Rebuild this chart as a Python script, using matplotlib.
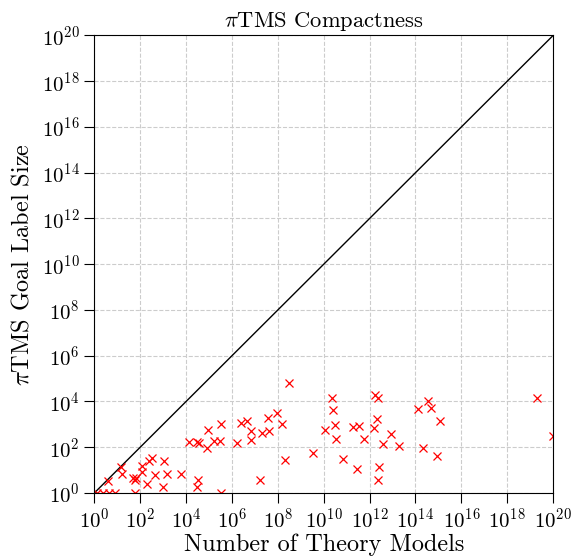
import numpy as np
import matplotlib
matplotlib.use("Agg")
import matplotlib.pyplot as plt

plt.rcParams['font.family'] = 'serif'
plt.rcParams['font.serif'] = ['cmr10']
plt.rcParams['mathtext.fontset'] = 'cm'
plt.rcParams['axes.formatter.use_mathtext'] = True
plt.rcParams['axes.unicode_minus'] = False

# numero de modelos de la teoria vs tamano de la etiqueta objetivo
n_models = [1.3, 2.3, 4.3, 8, 4, 14, 16, 49, 59, 69, 59, 115, 126, 190, 245, 316,
            437, 1070, 1410, 955, 5750, 1.35e4, 2.9e4, 3.7e4, 7.8e4, 9.1e4,
            1.6e5, 3.0e5, 3.5e5, 1.6e6, 3.4e4, 2.9e4, 3.5e5, 2.6e6, 4.7e6,
            6.6e6, 6.8e6, 2.0e7, 3.9e7, 4.3e7, 8.9e7, 1.45e8, 1.66e7, 3.2e8,
            2.0e8, 3.5e9, 2.2e10, 2.45e10, 3.1e10, 1.12e10, 3.4e10, 6.6e10,
            1.95e11, 3.4e11, 2.7e11, 5.6e11, 1.6e12, 1.7e12, 2.4e12, 2.0e12,
            2.6e12, 2.4e12, 3.9e12, 8.5e12, 1.95e13, 1.3e14, 3.6e14, 4.6e14,
            1.17e15, 2.2e14, 8.9e14, 2.0e19, 1e20]
label_size = [1, 1, 1, 1, 3.3, 14, 7, 4.4, 3.7, 4.4, 1, 8.5, 15, 2.6, 26, 33,
              6.2, 26, 6.8, 1.9, 6.6, 174, 174, 148, 89, 560,
              186, 186, 1020, 148, 3.7, 1.9, 1, 1100, 1450,
              525, 204, 427, 1950, 525, 3240, 1020, 3.7, 6.2e4,
              27.5, 57, 1.38e4, 4200, 930, 560, 230, 30,
              800, 850, 10.7, 230, 680, 1.9e4, 1.38e4, 1700,
              14, 3.7, 138, 380, 112, 4600, 1.07e4, 5200,
              1380, 89, 42, 1.45e4, 310]
limits = [1, 1e20]
ticks = [10.0**k for k in range(0, 21, 2)]

fig = plt.figure(figsize=(5.75, 5.56), dpi=100)
ax = fig.add_axes([0.164, 0.1133, 0.798, 0.823])

ax.plot(limits, limits, color='black', lw=1.0)
ax.plot(n_models, label_size, 'x', color='red', ms=6, mew=0.9)

ax.set_xscale('log')
ax.set_yscale('log')
ax.set_xlim(limits)
ax.set_ylim(limits)
ax.set_xticks(ticks)
ax.set_yticks(ticks)
ax.minorticks_off()
ax.tick_params(labelsize=15, length=7, width=0.8)
ax.grid(True, color='#cccccc', ls='--', lw=0.8)
ax.set_axisbelow(True)

ax.set_title(r'$\pi$TMS Compactness', fontsize=16.2, pad=6)
ax.set_xlabel('Number of Theory Models', fontsize=17.5, labelpad=1)
ax.set_ylabel(r'$\pi$TMS Goal Label Size', fontsize=17.5, labelpad=6)

fig.savefig('out.png', dpi=100)
